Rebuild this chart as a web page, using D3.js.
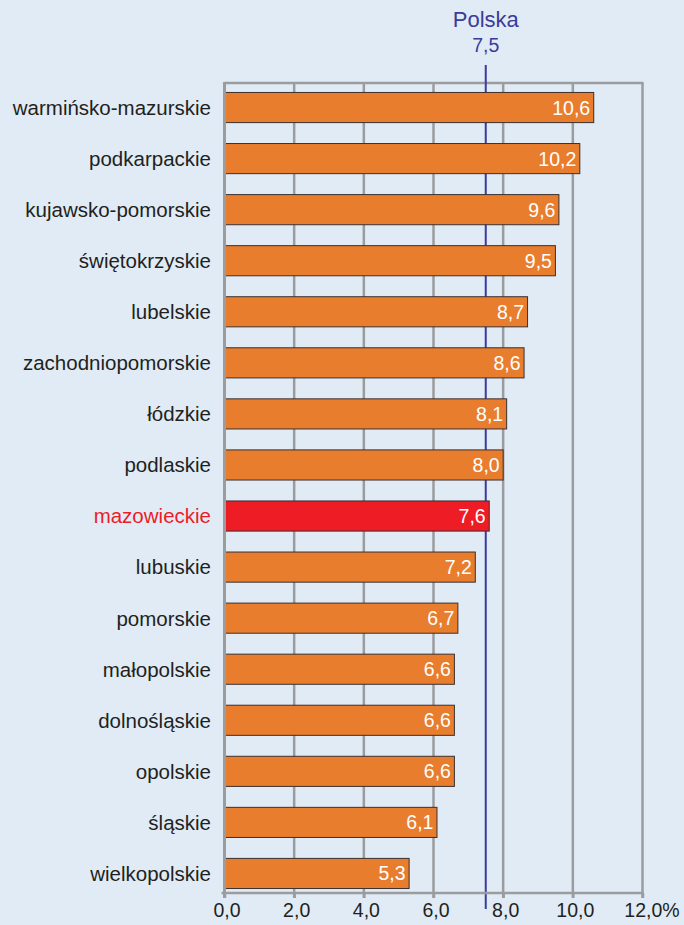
<!DOCTYPE html>
<html>
<head>
<meta charset="utf-8">
<script src="https://cdn.jsdelivr.net/npm/d3@7"></script>
<style>
  body { margin: 0; background: #e0ebf6; }
  svg { display: block; font-family: "Liberation Sans", Arial, sans-serif; }
</style>
</head>
<body>
<svg id="chart"></svg>
<script>
var regions = ["warmińsko-mazurskie", "podkarpackie", "kujawsko-pomorskie", "świętokrzyskie",
  "lubelskie", "zachodniopomorskie", "łódzkie", "podlaskie", "mazowieckie", "lubuskie",
  "pomorskie", "małopolskie", "dolnośląskie", "opolskie", "śląskie", "wielkopolskie"];
var values = [10.6, 10.2, 9.6, 9.5, 8.7, 8.6, 8.1, 8.0, 7.6, 7.2, 6.7, 6.6, 6.6, 6.6, 6.1, 5.3];
var highlight = "mazowieckie";
var polskaLabel = "Polska";
var polskaValue = 7.5;
var xTicks = [0, 2, 4, 6, 8, 10, 12];

var W = 684, H = 925;
var svg = d3.select("#chart").attr("width", W).attr("height", H);

var fmt = function(v){ return d3.format(".1f")(v).replace(".", ","); };

var x = d3.scaleLinear().domain([0, 12]).range([224.5, 642.5]);
var y = d3.scaleBand().domain(regions).range([82, 899]).paddingInner(0.41).paddingOuter(0.205);

var plotTop = 83, plotBottom = 893;
var grey = "#9b9c9e";

// grid lines
svg.append("g").selectAll("line")
  .data(xTicks.slice(1))
  .enter().append("line")
  .attr("x1", function(d){ return x(d); })
  .attr("x2", function(d){ return x(d); })
  .attr("y1", plotTop)
  .attr("y2", plotBottom + 5)
  .attr("stroke", grey)
  .attr("stroke-width", 2.5);

// top border
svg.append("line")
  .attr("x1", x(0)).attr("x2", x(12) + 1)
  .attr("y1", plotTop).attr("y2", plotTop)
  .attr("stroke", grey).attr("stroke-width", 2.5);

// Polska reference line (behind the bars)
svg.append("line")
  .attr("x1", x(polskaValue)).attr("x2", x(polskaValue))
  .attr("y1", 65).attr("y2", 909)
  .attr("stroke", "#3b3ba0").attr("stroke-width", 2);

svg.append("text")
  .attr("x", x(polskaValue))
  .attr("y", 27)
  .attr("text-anchor", "middle")
  .attr("fill", "#3b3b9a")
  .attr("font-size", 22)
  .text(polskaLabel);

svg.append("text")
  .attr("x", x(polskaValue))
  .attr("y", 52)
  .attr("text-anchor", "middle")
  .attr("fill", "#3b3b9a")
  .attr("font-size", 19.5)
  .text(fmt(polskaValue));

// bars
svg.append("g").selectAll("rect")
  .data(regions)
  .enter().append("rect")
  .attr("x", x(0))
  .attr("y", function(d){ return y(d); })
  .attr("width", function(d, i){ return x(values[i]) - x(0); })
  .attr("height", y.bandwidth())
  .attr("fill", function(d){ return d === highlight ? "#ee1c25" : "#e87d2e"; })
  .attr("stroke", "#3a3030")
  .attr("stroke-width", 1);

// value labels
svg.append("g").selectAll("text")
  .data(regions)
  .enter().append("text")
  .attr("x", function(d, i){ return x(values[i]) - 3.5; })
  .attr("y", function(d){ return y(d) + y.bandwidth() / 2; })
  .attr("dy", "0.36em")
  .attr("text-anchor", "end")
  .attr("fill", "#ffffff")
  .attr("font-size", 19.5)
  .text(function(d, i){ return fmt(values[i]); });

// category labels
svg.append("g").selectAll("text")
  .data(regions)
  .enter().append("text")
  .attr("x", 211)
  .attr("y", function(d){ return y(d) + y.bandwidth() / 2; })
  .attr("dy", "0.36em")
  .attr("text-anchor", "end")
  .attr("fill", function(d){ return d === highlight ? "#ee1c25" : "#231f20"; })
  .attr("font-size", 20.5)
  .text(function(d){ return d; });

// x axis
var xAxis = d3.axisBottom(x)
  .tickValues(xTicks)
  .tickSize(5)
  .tickSizeOuter(0)
  .tickFormat(function(d){ return fmt(d) + (d === 12 ? "%" : ""); });

var ax = svg.append("g")
  .attr("transform", "translate(0," + plotBottom + ")")
  .call(xAxis);
ax.select(".domain").attr("stroke", grey).attr("stroke-width", 2.5)
  .attr("d", "M" + (x(0) - 3) + ",0H" + (x(12) + 1));
ax.selectAll(".tick line").attr("stroke", grey).attr("stroke-width", 2.5);
ax.selectAll(".tick text")
  .attr("fill", "#231f20")
  .attr("font-size", 19.5)
  .attr("font-family", "Liberation Sans, Arial, sans-serif")
  .attr("y", 10)
  .attr("dx", function(d){ return d === 12 ? 9 : 2; });

// left axis line
svg.append("line")
  .attr("x1", x(0)).attr("x2", x(0))
  .attr("y1", plotTop - 1).attr("y2", plotBottom + 5)
  .attr("stroke", grey).attr("stroke-width", 3);
</script>
</body>
</html>
